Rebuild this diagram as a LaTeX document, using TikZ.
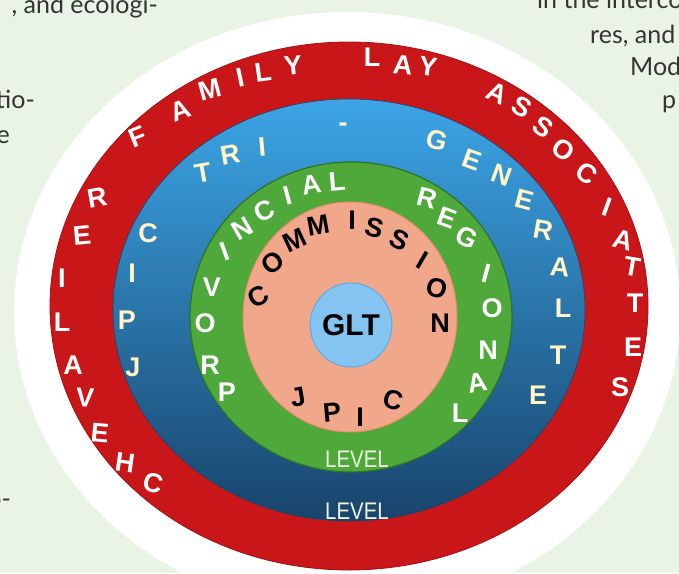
\documentclass[tikz,border=0pt]{standalone}
\usepackage{fontspec}
\setmainfont{Liberation Sans}
\newfontfamily\pagefont{Lato}
\usetikzlibrary{shapes.geometric}

\definecolor{pagebg}{RGB}{233,243,230}
\definecolor{pagegrey}{RGB}{52,52,52}
\definecolor{ringred}{RGB}{201,22,24}
\definecolor{ringredline}{RGB}{165,16,20}
\definecolor{bluetop}{RGB}{60,165,230}
\definecolor{bluemid}{RGB}{38,112,170}
\definecolor{bluebot}{RGB}{24,68,108}
\definecolor{ringgreen}{RGB}{78,168,58}
\definecolor{ringgreenline}{RGB}{45,115,40}
\definecolor{salmon}{RGB}{241,168,138}
\definecolor{salmonline}{RGB}{232,140,105}
\definecolor{gltblue}{RGB}{132,196,240}
\definecolor{gltline}{RGB}{95,170,228}
\definecolor{creamtext}{RGB}{255,244,198}
\definecolor{levelcream}{RGB}{238,244,222}

\begin{document}
\begin{tikzpicture}[x=1pt, y=-1pt,
    ringletter/.style={inner sep=0pt, font=\bfseries\fontsize{27}{27}\selectfont},
    redletter/.style={ringletter, text=white},
    blueletter/.style={ringletter, text=creamtext},
    greenletter/.style={ringletter, text=white},
    commletter/.style={ringletter, text=black},
    leveltext/.style={inner sep=0pt, text=levelcream, xscale=0.85, font=\fontsize{24}{24}\selectfont},
    gltnode/.style={ellipse, draw=gltline, fill=gltblue, line width=1pt, minimum width=72pt, minimum height=84pt, inner sep=0pt, font=\bfseries\fontsize{30}{30}\selectfont},
    pagetext/.style={inner sep=0pt, text=pagegrey, font=\pagefont\fontsize{25}{25}\selectfont}
]
\clip (0,0) rectangle (679,573);
\fill[pagebg] (0,0) rectangle (679,573);

% surrounding page text
\node[pagetext, anchor=base east] (lefta) at (158,13) {, and ecologi-};
\node[pagetext, anchor=base east] (leftb) at (35,108) {tio-};
\node[pagetext, anchor=base east] (leftc) at (10,143) {e};
\node[pagetext, anchor=base east] (leftd) at (11,507) {o-};
\node[pagetext, anchor=base west] (righta) at (537,8) {in the interco};
\node[pagetext, anchor=base west] (rightb) at (590,43) {res, and};
\node[pagetext, anchor=base west] (rightc) at (630,75) {Mod};
\node[pagetext, anchor=base west] (rightd) at (662,108) {p};

% rings
\fill[white] (347,312) ellipse [x radius=333, y radius=300];
\fill[ringred] (349,306) ellipse [x radius=299, y radius=264];
\draw[ringredline, line width=0.8pt] (349,306) ellipse [x radius=299, y radius=264];
\shade[top color=bluetop, middle color=bluemid, bottom color=bluebot] (349,310) ellipse [x radius=236, y radius=211];
\draw[bluebot, line width=0.6pt] (349,310) ellipse [x radius=236, y radius=211];
\fill[ringgreen] (351,317) ellipse [x radius=161, y radius=155];
\draw[ringgreenline, line width=1.2pt] (351,317) ellipse [x radius=161, y radius=155];
\fill[salmon] (350,317) ellipse [x radius=107, y radius=115];
\draw[salmonline, line width=1pt] (350,317) ellipse [x radius=107, y radius=115];
\node[gltnode] (glt) at (351,325) {GLT};

% outer ring: CHEVALIER FAMILY LAY ASSOCIATES
\foreach \x/\y/\r/\c [count=\i] in {153/483/-15/C, 125/463/-8/H, 100/433/-5/E, 85/398/-3/V,
    73/365/0/A, 62/322/0/L, 62/278/0/I, 82/235/5/E, 97/198/10/R,
    138/137/22/F, 180/110/20/A, 210/90/15/M, 240/78/12/I, 263/72/8/L, 293/65/5/Y,
    372/57/0/L, 403/65/-5/A, 428/67/-8/Y,
    497/93/-25/A, 522/107/-30/S, 543/127/-35/S, 563/150/-35/O, 587/173/-35/C,
    607/207/-20/I, 623/240/-15/A, 632/267/-10/T, 635/303/0/T, 633/347/0/E, 620/387/0/S}
  \node[redletter, rotate=\r] (red\i) at (\x,\y) {\c};

% blue ring: JPIC TRI - GENERALATE
\foreach \x/\y/\r/\c [count=\i] in {133/367/0/J, 127/320/0/P, 132/273/0/I, 148/233/0/C,
    203/173/10/T, 230/155/10/R, 262/147/5/I, 343/127/0/-,
    437/140/-15/G, 472/160/-20/E, 502/175/-20/N, 525/200/-15/E, 543/230/-10/R,
    560/267/-5/A, 563/308/0/L, 558/355/0/T, 538/395/0/E}
  \node[blueletter, rotate=\r] (blue\i) at (\x,\y) {\c};

% green ring: PROVINCIAL REGIONAL
\foreach \x/\y/\r/\c [count=\i] in {227/392/0/P, 210/365/0/R, 205/323/0/O, 212/287/0/V,
    225/251/20/I, 242/229/30/N, 264/211/25/C, 288/196/15/I, 311/185/10/A, 337/182/5/L,
    427/198/-15/R, 447/218/-20/E, 467/238/-25/G, 487/273/-15/I, 492/308/0/O,
    488/350/0/N, 477/383/10/A, 460/413/0/L}
  \node[greenletter, rotate=\r] (green\i) at (\x,\y) {\c};

% inner ring: COMMISSION JPIC
\foreach \x/\y/\r/\c [count=\i] in {258/297/30/C, 273/263/35/O, 295/240/25/M, 318/225/10/M,
    352/220/0/I, 375/228/-15/S, 400/240/-25/S, 422/260/-30/I, 437/288/-15/O, 440/323/0/N,
    298/397/10/J, 332/412/5/P, 360/417/0/I, 393/400/-15/C}
  \node[commletter, rotate=\r] (comm\i) at (\x,\y) {\c};

\node[leveltext] (greenlevel) at (357,459) {LEVEL};
\node[leveltext] (bluelevel) at (357,511) {LEVEL};
\end{tikzpicture}
\end{document}
